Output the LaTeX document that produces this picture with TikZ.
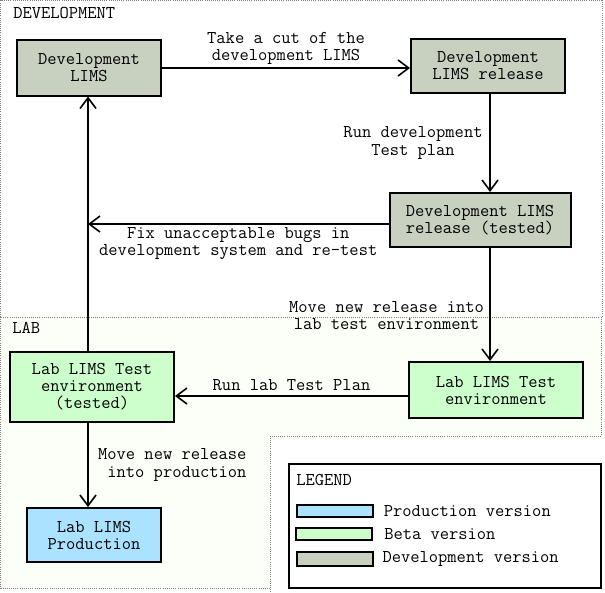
\documentclass[tikz,border=0pt]{standalone}
\usepackage{fontspec}
\usetikzlibrary{arrows.meta,positioning,calc}
\definecolor{devgray}{RGB}{200,208,192}
\definecolor{betagreen}{RGB}{204,255,204}
\definecolor{prodblue}{RGB}{170,226,255}
\definecolor{labbg}{RGB}{252,254,248}

\begin{document}
\begin{tikzpicture}[x=0.75pt, y=-0.75pt,
  every node/.style={font=\ttfamily\fontsize{13.5}{12.8}\selectfont},
  box/.style={rectangle, draw, line width=1.5pt, align=center, inner sep=0pt},
  dev/.style={box, fill=devgray},
  beta/.style={box, fill=betagreen},
  prod/.style={box, fill=prodblue},
  flow/.style={line width=1.2pt, -{Straight Barb[length=8pt,width=12pt,line width=1.2pt]}},
  zone/.style={gray, densely dotted, line width=0.6pt},
  swatch/.style={rectangle, draw, line width=1.3pt, minimum width=57pt, minimum height=9pt, inner sep=0pt}]
\useasboundingbox (0,0) rectangle (605,592);
% regions
\fill[white] (0,0) rectangle (603,317);
\fill[labbg] (0,317) rectangle (601,588);
\draw[zone] (0.5,317) -- (0.5,0.5) -- (602,0.5) -- (602,317) -- cycle;
\draw[zone] (601,317) -- (601,436);
\draw[zone] (0.5,317) -- (0.5,588) -- (270,588);
\fill[white] (270,436) rectangle (605,592);
\draw[zone] (601,436) -- (270,436) -- (270,592);
\node[anchor=west, inner sep=0pt] (devzone) at (13,13) {DEVELOPMENT};
\node[anchor=west, inner sep=0pt] (labzone) at (12,328) {LAB};

% boxes
\node[dev, minimum width=108pt, minimum height=41.25pt] (devlims) at (89,68) {Development\\LIMS};
\node[dev, minimum width=115.5pt, minimum height=40.5pt] (devrel) at (488,66) {Development\\LIMS release};
\node[dev, minimum width=135.75pt, minimum height=40.5pt] (devtested) at (480,220) {Development LIMS\\release (tested)};
\node[beta, minimum width=123pt, minimum height=52.5pt] (labtested) at (92,387) {Lab LIMS Test\\environment\\(tested)};
\node[beta, minimum width=130.5pt, minimum height=42pt] (labtest) at (496,390) {Lab LIMS Test\\environment};
\node[prod, minimum width=100.5pt, minimum height=40.5pt] (labprod) at (94,535) {Lab LIMS\\Production};
\coordinate (fixend) at (88,224);

% flows
\draw[flow] (devlims.east |- 0,68) -- node[midway, above, align=center, inner sep=2pt] {Take a cut of the\\development LIMS} (devrel.west |- 0,68);
\draw[flow] (490,0 |- devrel.south) -- node[midway, left, align=center, inner sep=5pt] {Run development\\Test plan} (490,0 |- devtested.north);
\draw[flow] (devtested.west |- fixend) -- node[midway, below, align=center, inner sep=2pt] {Fix unacceptable bugs in\\development system and re-test} (fixend);
\draw[flow] (88,0 |- labtested.north) -- (88,0 |- devlims.south);
\draw[flow] (490,0 |- devtested.south) -- node[pos=0.6, left, align=center, inner sep=4pt] {Move new release into\\lab test environment} (490,0 |- labtest.north);
\draw[flow] (labtest.west |- 0,396) -- node[midway, above, inner sep=3pt] {Run lab Test Plan} (labtested.east |- 0,396);
\draw[flow] (88,0 |- labtested.south) -- node[midway, right, align=left, inner sep=7pt] {Move new release\\\ into production} (88,0 |- labprod.north);

% legend
\node[draw, line width=1.5pt, fill=white, minimum width=234pt, minimum height=93pt, inner sep=0pt] (legend) at (445,526) {};
\node[anchor=west, inner sep=0pt] (legtitle) at (296,480) {LEGEND};
\node[swatch, fill=prodblue] (swprod) at (335,511) {};
\node[swatch, fill=betagreen] (swbeta) at (334,534) {};
\node[swatch, fill=devgray, minimum height=10.5pt] (swdev) at (335,559) {};
\node[right=4pt of swprod] (txprod) {Production version};
\node[right=5pt of swbeta] (txbeta) {Beta version};
\node[right=3pt of swdev] (txdev) {Development version};
\end{tikzpicture}
\end{document}
